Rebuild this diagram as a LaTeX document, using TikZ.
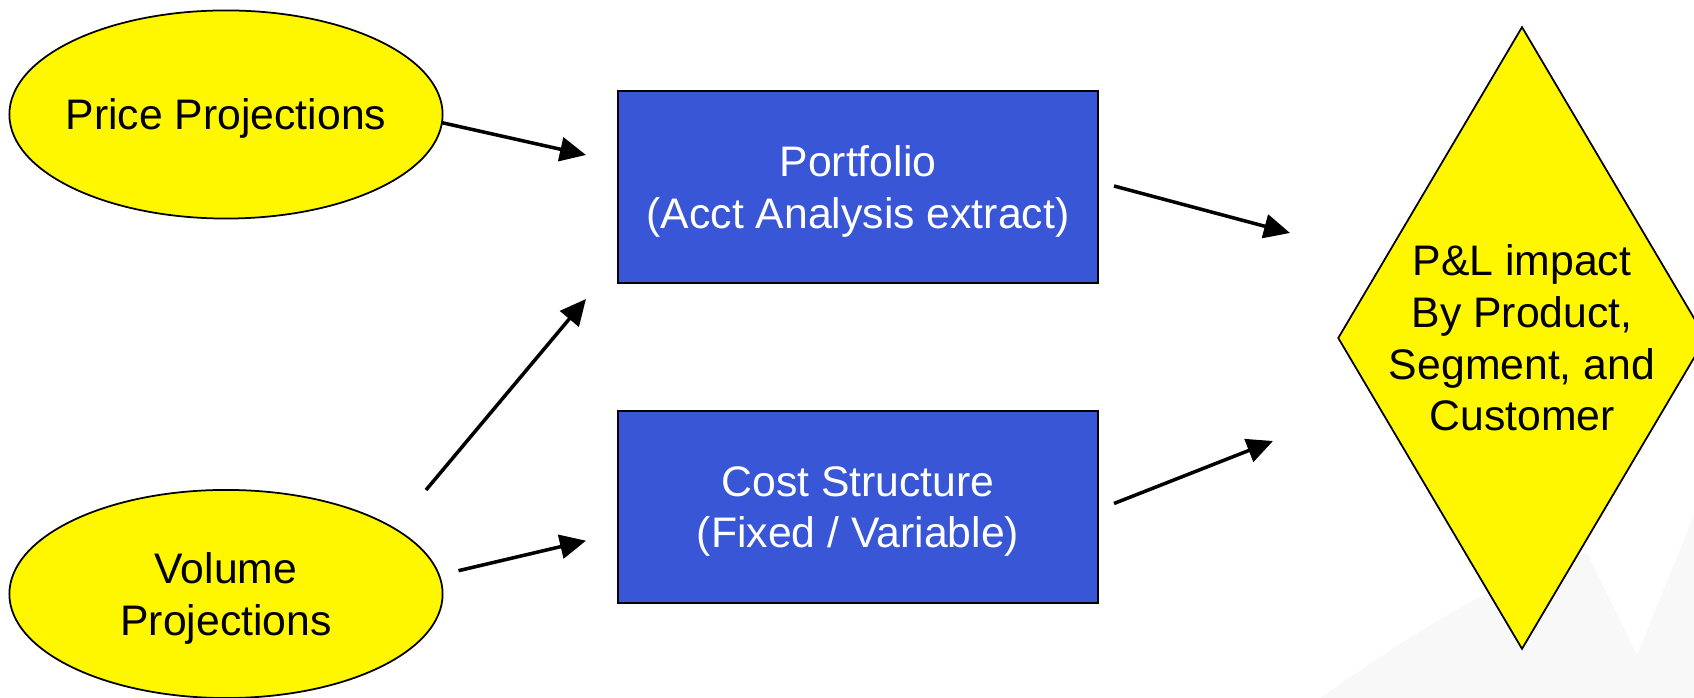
\documentclass[tikz,border=0pt]{standalone}
\usepackage{fontspec}
\setmainfont{Liberation Sans}
\usetikzlibrary{shapes.geometric,arrows.meta}

\definecolor{boxblue}{RGB}{56,86,214}
\definecolor{padyellow}{RGB}{255,247,0}
\definecolor{shadegray}{RGB}{248,248,248}

\tikzset{
  txt/.style={font=\fontsize{12.15pt}{14.7pt}\selectfont, align=center},
  input/.style={ellipse, draw=black, line width=0.5pt, fill=padyellow,
    minimum width=4.33cm, minimum height=2.08cm, inner xsep=-0.1cm,
    inner ysep=0pt, text depth=0pt, txt},
  stage/.style={rectangle, draw=black, line width=0.6pt, fill=boxblue,
    text=white, minimum width=4.8cm, minimum height=1.92cm, inner sep=0pt,
    text depth=0pt, txt},
  result/.style={diamond, draw=black, line width=0.5pt, fill=padyellow,
    minimum width=3.68cm, minimum height=6.22cm, inner sep=0pt},
  flow/.style={line width=1pt, -{Triangle[length=0.26cm, width=0.24cm]}},
}

\begin{document}
\begin{tikzpicture}[x=0.01cm, y=-0.01cm]
  \useasboundingbox (0,0) rectangle (1694,698);
  \clip (0,0) rectangle (1694,698);

  % faint backdrop shading in the lower right corner
  \fill[shadegray] (1320,698) .. controls (1420,628) and (1500,578) .. (1587,553)
    -- (1637,655) -- (1694,515) -- (1694,698) -- cycle;

  % inputs
  \node[input] (price)  at (226,114.5) {Price Projections};
  \node[input] (volume) at (226,594)   {Volume\\Projections};

  % processing stages
  \node[stage] (portfolio) at (858,187) {Portfolio\\(Acct Analysis extract)};
  \node[stage] (cost)      at (858,507) {Cost Structure\\(Fixed / Variable)};

  % outcome
  \node[result] (pl) at (1522,338) {};
  \node[txt] (pltext) at (pl.center) {P\&L impact\\By Product,\\Segment, and\\Customer};

  % arrow end points
  \coordinate (priceOut)   at (442,122.7);
  \coordinate (portInA)    at (586,155);
  \coordinate (volOutA)    at (426,490);
  \coordinate (portInB)    at (586,299);
  \coordinate (volOutB)    at (458.5,570.7);
  \coordinate (costIn)     at (586,540.7);
  \coordinate (portOut)    at (1114,186);
  \coordinate (plInA)      at (1290,233);
  \coordinate (costOut)    at (1114,503.5);
  \coordinate (plInB)      at (1273,441);

  % connectors
  \draw[flow] (priceOut) -- (portInA);
  \draw[flow] (volOutA)  -- (portInB);
  \draw[flow] (volOutB)  -- (costIn);
  \draw[flow] (portOut)  -- (plInA);
  \draw[flow] (costOut)  -- (plInB);
\end{tikzpicture}
\end{document}
